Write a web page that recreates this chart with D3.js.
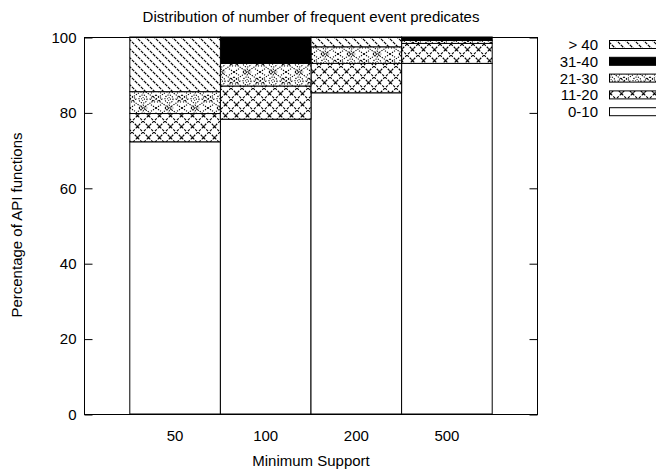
<!DOCTYPE html>
<html>
<head>
<meta charset="utf-8">
<script src="https://cdn.jsdelivr.net/npm/d3@7"></script>
<style>
  body { margin: 0; background: #fff; }
  svg { display: block; font-family: "Liberation Sans", Arial, sans-serif; }
</style>
</head>
<body>
<svg id="chart" width="656" height="470"></svg>
<script>
const categories = ["50", "100", "200", "500"];
const seriesNames = ["0-10", "11-20", "21-30", "31-40", "> 40"];
const v0_10  = [72.2, 78.2, 85.2, 93.0];
const v11_20 = [7.5, 8.8, 7.8, 5.3];
const v21_30 = [5.8, 6.0, 4.4, 0.8];
const v31_40 = [0, 7.0, 0, 0.9];
const vGt40  = [14.5, 0, 2.6, 0];
const yTicks = [0, 20, 40, 60, 80, 100];

const seriesValues = [v0_10, v11_20, v21_30, v31_40, vGt40];
const fills = ["#fff", "url(#p11)", "url(#p21)", "#000", "url(#p40)"];
const FS = 15;

const svg = d3.select("#chart");
const M = { left: 84, right: 537, top: 37, bottom: 414 };

// patterns
const defs = svg.append("defs");
const p11 = defs.append("pattern").attr("id", "p11").attr("patternUnits", "userSpaceOnUse")
  .attr("width", 11).attr("height", 11);
p11.append("rect").attr("width", 11).attr("height", 11).attr("fill", "#fff");
p11.append("path").attr("d", "M0,0L11,11M11,0L0,11").attr("stroke", "#000").attr("stroke-width", 1.1)
  .attr("stroke-dasharray", "2.5,1.4");
p11.append("rect").attr("x", 4.5).attr("y", 4.5).attr("width", 2).attr("height", 2).attr("fill", "#000");

const p21 = defs.append("pattern").attr("id", "p21").attr("patternUnits", "userSpaceOnUse")
  .attr("width", 26).attr("height", 18);
p21.append("rect").attr("width", 26).attr("height", 18).attr("fill", "#fff");
p21.append("path").attr("d", "M0,9L13,0L26,9L13,18Z M0,0L6,4 M26,0L20,4 M0,18L6,14 M26,18L20,14 M0,5L6,9L0,13 M26,5L20,9L26,13 M9,0L13,3L17,0 M9,18L13,15L17,18")
  .attr("fill", "none").attr("stroke", "#000").attr("stroke-width", 1.1).attr("stroke-dasharray", "1.2,1.2");
p21.append("circle").attr("cx", 13).attr("cy", 9).attr("r", 4).attr("fill", "none")
  .attr("stroke", "#000").attr("stroke-width", 1.1).attr("stroke-dasharray", "1.2,1.2");
p21.append("circle").attr("cx", 13).attr("cy", 9).attr("r", 1.5).attr("fill", "none")
  .attr("stroke", "#000").attr("stroke-width", 1).attr("stroke-dasharray", "1,1");

const p40 = defs.append("pattern").attr("id", "p40").attr("patternUnits", "userSpaceOnUse")
  .attr("width", 9).attr("height", 9);
p40.append("rect").attr("width", 9).attr("height", 9).attr("fill", "#fff");
p40.append("path").attr("d", "M0,0L9,9M-1,8L1,10M8,-1L10,1").attr("stroke", "#000").attr("stroke-width", 1.1)
  .attr("stroke-dasharray", "3.2,1");

const x = d3.scaleBand().domain(categories).range([M.left, M.right]).paddingInner(0).paddingOuter(0.5);
const y = d3.scaleLinear().domain([0, 100]).range([M.bottom, M.top]);

// stacked data
const table = categories.map((c, i) => {
  const o = { cat: c };
  seriesNames.forEach((s, j) => o[s] = seriesValues[j][i]);
  return o;
});
const stacked = d3.stack().keys(seriesNames)(table);

const g = svg.append("g");
stacked.forEach((layer, j) => {
  g.selectAll(null).data(layer.filter(d => d[1] - d[0] > 0)).enter().append("rect")
    .attr("x", d => x(d.data.cat) + 0.5)
    .attr("width", x.bandwidth())
    .attr("y", d => y(d[1]))
    .attr("height", d => y(d[0]) - y(d[1]))
    .attr("fill", fills[j])
    .attr("stroke", "#000").attr("stroke-width", 1);
});

// frame
svg.append("rect").attr("x", M.left + 0.5).attr("y", M.top + 0.5)
  .attr("width", M.right - M.left).attr("height", M.bottom - M.top)
  .attr("fill", "none").attr("stroke", "#000").attr("stroke-width", 1);

// y axis ticks (inward, mirrored)
const yAxisL = d3.axisLeft(y).tickValues(yTicks).tickSize(-8).tickPadding(8);
const ga = svg.append("g").attr("transform", `translate(${M.left + 0.5},0.5)`).call(yAxisL);
ga.select(".domain").remove();
ga.selectAll("text").attr("font-size", FS).attr("font-family", "Liberation Sans, Arial, sans-serif").attr("fill", "#000");
const yAxisR = d3.axisRight(y).tickValues(yTicks).tickSize(-8).tickFormat("");
const gr = svg.append("g").attr("transform", `translate(${M.right + 0.5},0.5)`).call(yAxisR);
gr.select(".domain").remove();

// x axis labels
const xAxis = d3.axisBottom(x).tickSize(0).tickPadding(16);
const gx = svg.append("g").attr("transform", `translate(0.5,${M.bottom})`).call(xAxis);
gx.select(".domain").remove();
gx.selectAll("text").attr("font-size", FS).attr("font-family", "Liberation Sans, Arial, sans-serif").attr("fill", "#000");

// titles
svg.append("text").attr("x", 311).attr("y", 22).attr("text-anchor", "middle")
  .attr("font-size", FS).text("Distribution of number of frequent event predicates");
svg.append("text").attr("x", 311).attr("y", 466).attr("text-anchor", "middle")
  .attr("font-size", FS).text("Minimum Support");
svg.append("text").attr("transform", "translate(22,225) rotate(-90)").attr("text-anchor", "middle")
  .attr("font-size", FS).text("Percentage of API functions");

// legend
const legendOrder = seriesNames.map((s, j) => ({ s, j })).reverse();
const lg = svg.append("g");
legendOrder.forEach((d, i) => {
  const cy = 45 + i * 16.8;
  lg.append("text").attr("x", 598).attr("y", cy + 5).attr("text-anchor", "end")
    .attr("font-size", FS).text(d.s);
  lg.append("rect").attr("x", 609.5).attr("y", cy - 4.5).attr("width", 60).attr("height", 8)
    .attr("fill", fills[d.j]).attr("stroke", "#000").attr("stroke-width", 1);
});
</script>
</body>
</html>
